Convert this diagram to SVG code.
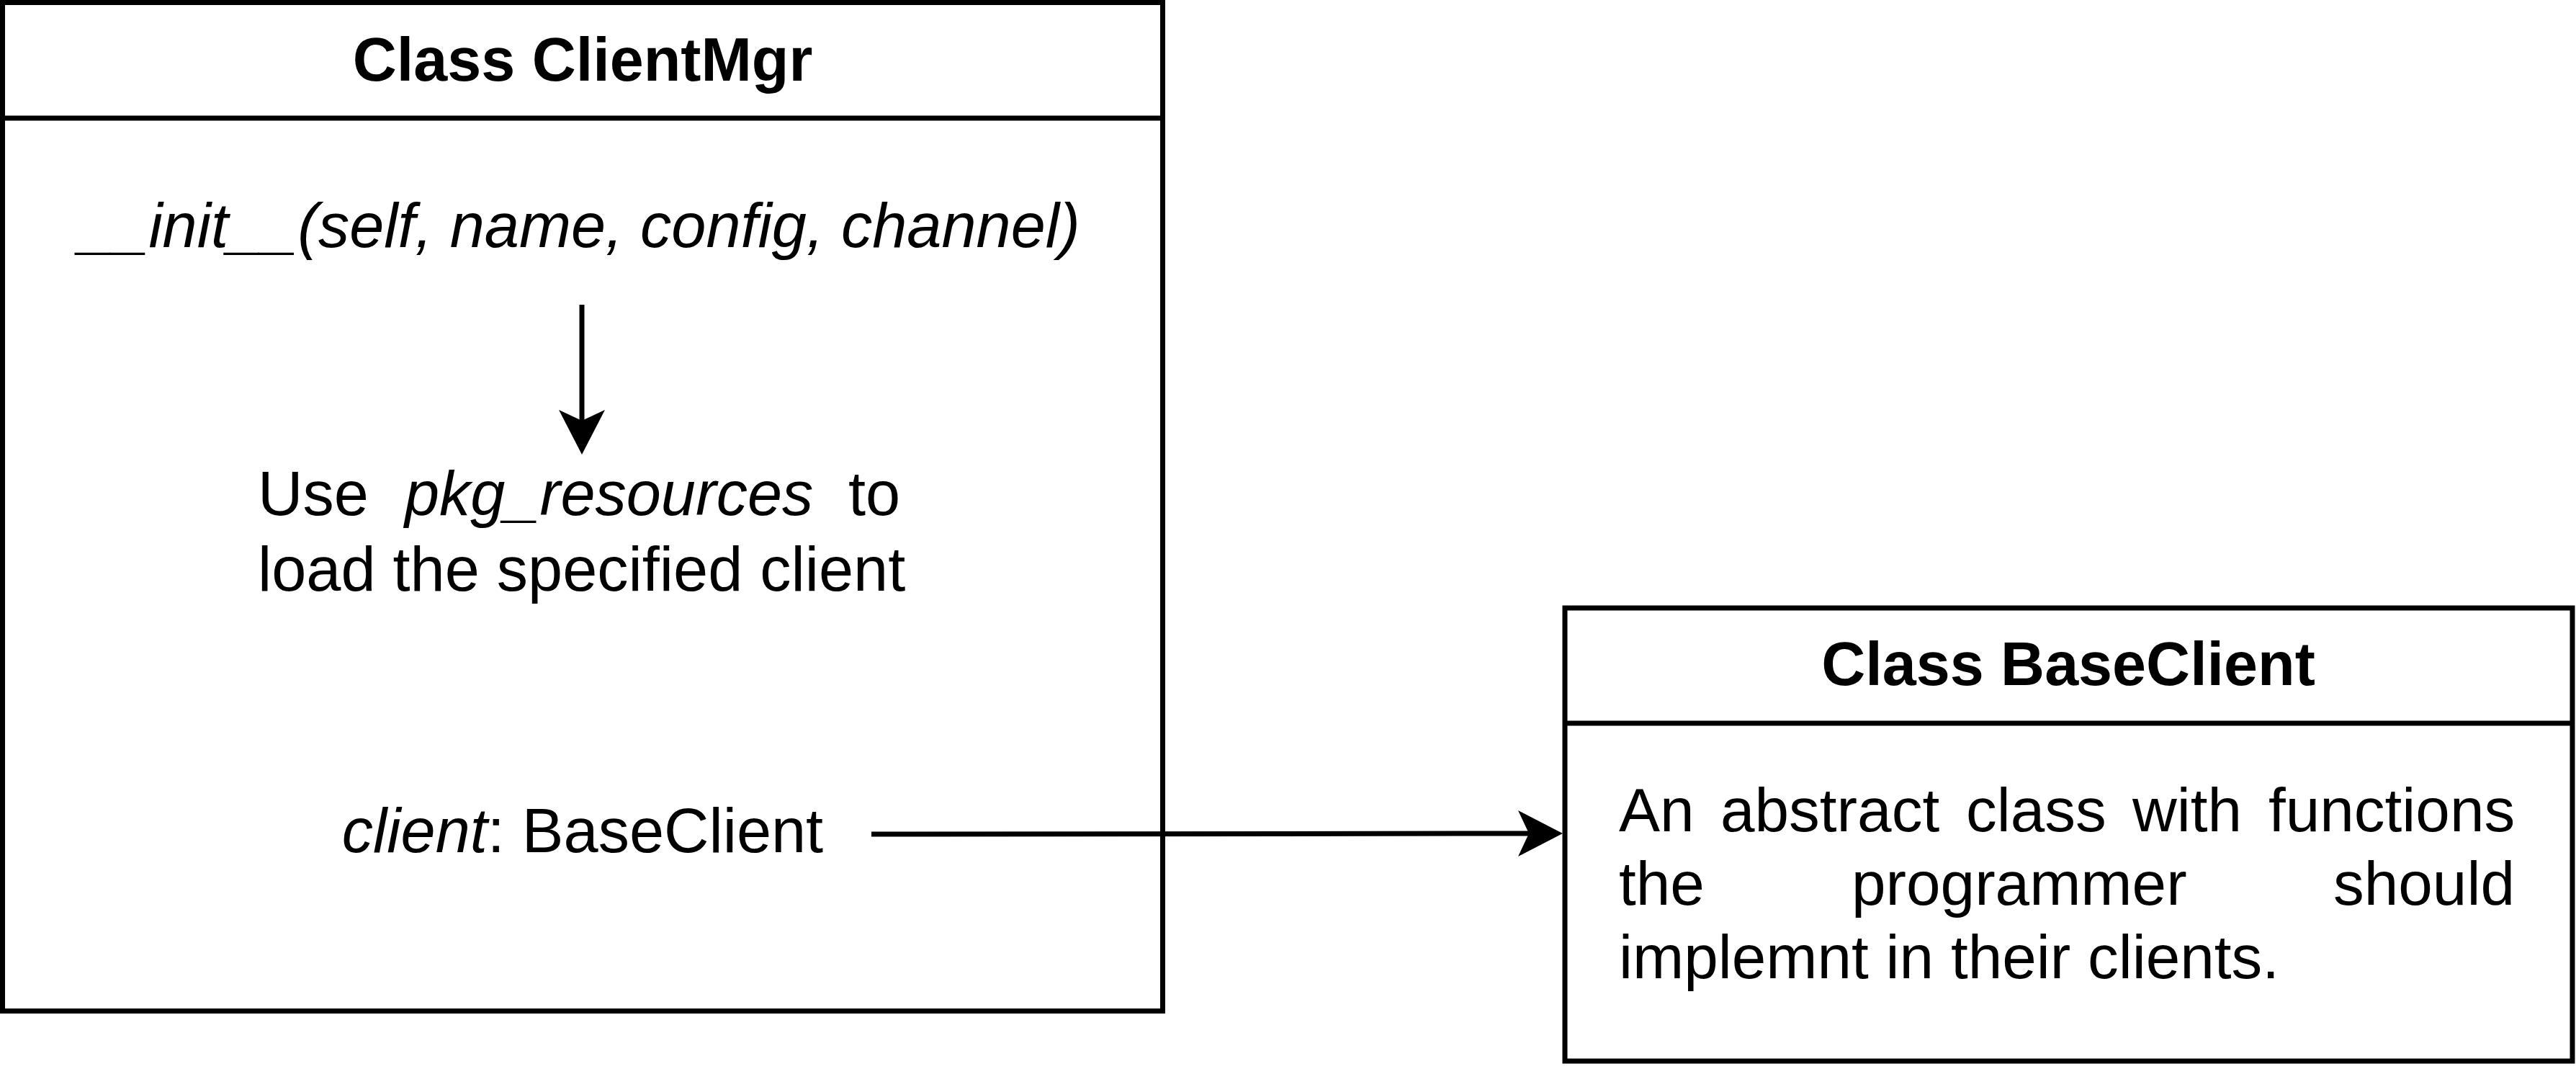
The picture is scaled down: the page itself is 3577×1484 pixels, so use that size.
<svg xmlns="http://www.w3.org/2000/svg" width="3577" height="1484" viewBox="0 0 3577 1484">
<style>
.box{fill:#ffffff;stroke:#000000;stroke-width:7}
.div{stroke:#000000;stroke-width:7;fill:none}
.edge{stroke:#000000;stroke-width:7;fill:none}
.title{font-family:"Liberation Sans",Arial,sans-serif;font-weight:bold;font-size:84.5px;fill:#000000}
.body{font-family:"Liberation Sans",Arial,sans-serif;font-size:85.5px;fill:#000000}
.big{font-size:86.5px}
.it{font-style:italic}
</style>
<defs>
<marker id="arrow" markerUnits="userSpaceOnUse" markerWidth="64" markerHeight="66" viewBox="0 0 64 66" refX="15" refY="33" orient="auto">
<path d="M0,1 L62,33 L0,65 L15,33 Z" fill="#000000"/>
</marker>
</defs>
<rect width="3577" height="1484" fill="#ffffff"/>
<g id="clientmgr">
<rect class="box" x="3.5" y="3.5" width="1611" height="1400"/>
<line class="div" x1="3.5" y1="164" x2="1614.5" y2="164"/>
<text class="title" x="809" y="112" text-anchor="middle">Class ClientMgr</text>
<text class="body big it" x="805" y="343" text-anchor="middle">__init__(self, name, config, channel)</text>
<text class="body big" y="715"><tspan x="358">Use</tspan><tspan class="it" x="562">pkg_resources</tspan><tspan x="1178">to</tspan></text>
<text class="body big" x="358" y="820">load the specified client</text>
<text class="body big" x="809" y="1183" text-anchor="middle"><tspan class="it">client</tspan>: BaseClient</text>
</g>
<g id="baseclient">
<rect class="box" x="2173" y="844" width="1399" height="629"/>
<line class="div" x1="2173" y1="1004" x2="3572" y2="1004"/>
<text class="title" x="2872" y="951" text-anchor="middle">Class BaseClient</text>
<text class="body" y="1154"><tspan x="2248">An</tspan><tspan x="2389">abstract</tspan><tspan x="2730">class</tspan><tspan x="2961">with</tspan><tspan x="3150">functions</tspan></text>
<text class="body" y="1256"><tspan x="2248">the</tspan><tspan x="2571">programmer</tspan><tspan x="3240">should</tspan></text>
<text class="body" x="2248" y="1358">implemnt in their clients.</text>
</g>
<g id="connectors">
<line class="edge" x1="808" y1="423" x2="808" y2="584" marker-end="url(#arrow)"/>
<line class="edge" x1="1210" y1="1158" x2="2123" y2="1157" marker-end="url(#arrow)"/>
</g>
</svg>
